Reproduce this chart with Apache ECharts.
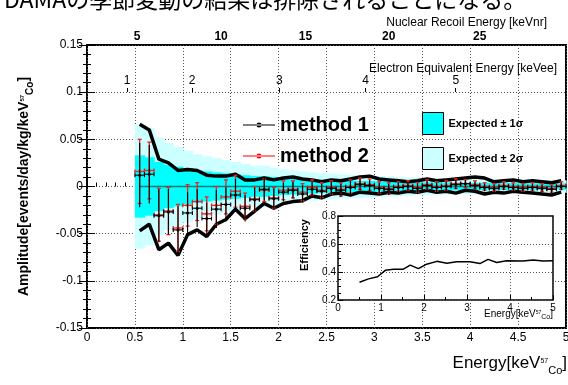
<!DOCTYPE html>
<html>
<head>
<meta charset="utf-8">
<script src="https://cdn.jsdelivr.net/npm/echarts@6/dist/echarts.min.js"></script>
<style>
html, body { margin: 0; padding: 0; background: #fff; }
#chart { width: 568px; height: 385px; }
</style>
</head>
<body>
<div id="chart"></div>
<script>
// bin centres [keV 57Co], 0.1 keV wide
var energy = [0.55, 0.65, 0.75, 0.85, 0.95, 1.05, 1.15, 1.25, 1.35, 1.45, 1.55, 1.65, 1.75, 1.85, 1.95,
  2.05, 2.15, 2.25, 2.35, 2.45, 2.55, 2.65, 2.75, 2.85, 2.95, 3.05, 3.15, 3.25, 3.35, 3.45,
  3.55, 3.65, 3.75, 3.85, 3.95, 4.05, 4.15, 4.25, 4.35, 4.45, 4.55, 4.65, 4.75, 4.85, 4.95];

// method 1 (black)
var method1 = [0.012, 0.013, -0.031, -0.027, -0.046, -0.028, -0.023, -0.034, -0.024, -0.019, -0.009, -0.023, -0.014, -0.003, -0.013,
  -0.006, -0.004, -0.008, -0.003, -0.005, -0.002, -0.004, -0.001, 0.002, 0.001, -0.002, -0.003, -0.001, 0.000, -0.002,
  0.001, -0.001, 0.000, 0.002, 0.003, 0.001, -0.001, -0.002, 0.000, -0.001, -0.002, -0.001, -0.002, -0.003, 0.000];
var error1 = [0.034, 0.031, 0.028, 0.024, 0.025, 0.022, 0.020, 0.017, 0.020, 0.018, 0.017, 0.014, 0.013, 0.012, 0.011,
  0.010, 0.009, 0.009, 0.008, 0.008, 0.007, 0.007, 0.007, 0.006, 0.006, 0.006, 0.006, 0.005, 0.005, 0.005,
  0.005, 0.005, 0.005, 0.005, 0.004, 0.004, 0.004, 0.004, 0.004, 0.004, 0.004, 0.004, 0.004, 0.004, 0.004];

// method 2 (red)
var method2 = [0.016, 0.017, -0.030, -0.026, -0.044, -0.020, -0.016, -0.029, -0.020, -0.011, -0.005, -0.021, -0.013, -0.004, -0.012,
  -0.004, -0.003, -0.006, -0.001, -0.004, -0.001, -0.003, 0.000, 0.003, 0.002, -0.001, -0.002, 0.000, 0.001, -0.001,
  0.002, 0.000, 0.001, 0.003, 0.003, 0.002, 0.000, -0.001, 0.001, 0.000, -0.001, 0.000, -0.001, -0.002, 0.001];
var error2 = [0.034, 0.030, 0.028, 0.025, 0.025, 0.022, 0.020, 0.018, 0.020, 0.018, 0.017, 0.014, 0.013, 0.012, 0.011,
  0.010, 0.009, 0.009, 0.008, 0.008, 0.007, 0.007, 0.007, 0.006, 0.006, 0.006, 0.006, 0.005, 0.005, 0.005,
  0.005, 0.005, 0.005, 0.005, 0.004, 0.004, 0.004, 0.004, 0.004, 0.004, 0.004, 0.004, 0.004, 0.004, 0.004];

// expected 1 sigma half width
var sigma = [0.033, 0.031, 0.026, 0.023, 0.021, 0.019, 0.017, 0.016, 0.015, 0.014, 0.013, 0.012, 0.011, 0.011, 0.010,
  0.009, 0.0085, 0.008, 0.0075, 0.007, 0.0068, 0.0065, 0.0062, 0.006, 0.0058, 0.0055, 0.0053, 0.005, 0.0048, 0.0047,
  0.0045, 0.0044, 0.0043, 0.0042, 0.004, 0.0039, 0.0038, 0.0037, 0.0036, 0.0036, 0.0035, 0.0035, 0.0034, 0.0034, 0.0033];

// thick black envelopes
var upperLine = [0.066, 0.060, 0.029, 0.025, 0.017, 0.018, 0.017, 0.012, 0.011, 0.011, 0.013, 0.007, 0.007, 0.009, 0.007,
  0.009, 0.010, 0.008, 0.007, 0.005, 0.007, 0.006, 0.008, 0.010, 0.011, 0.008, 0.007, 0.006, 0.005, 0.006,
  0.008, 0.006, 0.007, 0.008, 0.009, 0.010, 0.009, 0.005, 0.006, 0.007, 0.005, 0.006, 0.005, 0.004, 0.006];
var lowerLine = [-0.047, -0.040, -0.067, -0.060, -0.073, -0.051, -0.046, -0.053, -0.040, -0.035, -0.024, -0.034, -0.026, -0.018, -0.023,
  -0.018, -0.016, -0.015, -0.010, -0.012, -0.008, -0.007, -0.009, -0.006, -0.007, -0.008, -0.006, -0.007, -0.005, -0.006,
  -0.004, -0.006, -0.005, -0.007, -0.004, -0.005, -0.008, -0.006, -0.007, -0.005, -0.006, -0.007, -0.008, -0.009, -0.006];

// inset: efficiency
var effEnergy = [0.5, 0.71, 0.92, 1.1, 1.29, 1.52, 1.68, 1.87, 2.06, 2.3, 2.53, 2.76, 3.07, 3.3, 3.49, 3.69, 3.92, 4.3, 4.54, 4.77, 5.0];
var efficiency = [0.327, 0.351, 0.366, 0.412, 0.42, 0.42, 0.449, 0.424, 0.456, 0.476, 0.463, 0.473, 0.473, 0.46, 0.49, 0.468, 0.48, 0.478, 0.485, 0.478, 0.48];

// top axes: labels and where they sit on the keV(57Co) scale
var nrLabels = ['5', '10', '15', '20', '25'];
var nrPos = [0.523, 1.40, 2.28, 3.15, 4.10];
var eeLabels = ['1', '2', '3', '4', '5'];
var eePos = [0.418, 1.098, 2.008, 2.908, 3.849];

var FONT = '"Liberation Sans", Arial, Helvetica, sans-serif';
var HALF_BIN = 0.05;

function nearestLabel(pos, labels) {
  return function (v) {
    var best = 0;
    for (var i = 1; i < pos.length; i++) {
      if (Math.abs(pos[i] - v) < Math.abs(pos[best] - v)) best = i;
    }
    return labels[best];
  };
}

function bandItem(k, color) {
  return function (params, api) {
    var e = api.value(0), s = api.value(1) * k;
    var p1 = api.coord([e - HALF_BIN, s]);
    var p2 = api.coord([e + HALF_BIN, -s]);
    return {
      type: 'rect',
      shape: { x: p1[0], y: p1[1], width: p2[0] - p1[0] + 0.6, height: p2[1] - p1[1] },
      style: { fill: color }
    };
  };
}

function errorItem(color, lw, caps) {
  return function (params, api) {
    var x = api.value(0), y = api.value(1), err = api.value(2);
    var c = api.coord([x, y]);
    var top = api.coord([x, y + err]);
    var bot = api.coord([x, y - err]);
    var l = api.coord([x - HALF_BIN, y]);
    var r = api.coord([x + HALF_BIN, y]);
    var st = { stroke: color, lineWidth: lw };
    var kids = [
      { type: 'line', shape: { x1: c[0], y1: top[1], x2: c[0], y2: bot[1] }, style: st },
      { type: 'line', shape: { x1: l[0], y1: c[1], x2: r[0], y2: c[1] }, style: st },
      { type: 'line', shape: { x1: l[0], y1: c[1] - 2, x2: l[0], y2: c[1] + 2 }, style: st },
      { type: 'line', shape: { x1: r[0], y1: c[1] - 2, x2: r[0], y2: c[1] + 2 }, style: st },
      { type: 'circle', shape: { cx: c[0], cy: c[1], r: 1.5 }, style: { fill: color } }
    ];
    if (caps) {
      kids.push({ type: 'line', shape: { x1: c[0] - 2, y1: top[1], x2: c[0] + 2, y2: top[1] }, style: st });
      kids.push({ type: 'line', shape: { x1: c[0] - 2, y1: bot[1], x2: c[0] + 2, y2: bot[1] }, style: st });
    }
    return { type: 'group', children: kids };
  };
}

var methodIcon = 'path://M0,3.5L32,3.5L32,4.5L0,4.5Z M13.5,4A2.5,2.5 0 1 0 18.5,4A2.5,2.5 0 1 0 13.5,4Z';

var chart = echarts.init(document.getElementById('chart'));

var tickLine = { color: '#000', width: 1 };

chart.setOption({
  animation: false,
  textStyle: { fontFamily: FONT, color: '#000' },
  grid: [
    { left: 87, right: 2, top: 45, bottom: 57, show: true, borderColor: '#000', borderWidth: 2,
      backgroundColor: 'transparent', outerBoundsMode: 'none' },
    { left: 338, top: 216, width: 215, height: 84, show: true, borderColor: '#000', borderWidth: 1.5,
      backgroundColor: '#fff', z: 10, outerBoundsMode: 'none' }
  ],
  legend: [
    {
      left: 238, top: 110, orient: 'vertical', itemGap: 11, itemWidth: 32, itemHeight: 5,
      data: [{ name: 'method 1', icon: methodIcon }, { name: 'method 2', icon: methodIcon }],
      textStyle: { fontFamily: FONT, fontSize: 20, fontWeight: 'bold', color: '#000' },
      selectedMode: false
    },
    {
      left: 417, top: 107, orient: 'vertical', itemGap: 12, itemWidth: 21, itemHeight: 22,
      data: [
        { name: 'Expected ± 1σ', icon: 'rect', itemStyle: { color: '#00ffff', borderColor: '#000', borderWidth: 1 } },
        { name: 'Expected ± 2σ', icon: 'rect', itemStyle: { color: '#ccffff', borderColor: '#000', borderWidth: 1 } }
      ],
      textStyle: { fontFamily: FONT, fontSize: 11, fontWeight: 'bold', color: '#000' },
      selectedMode: false
    }
  ],
  xAxis: [
    {
      type: 'value', gridIndex: 0, min: 0, max: 5, interval: 0.5,
      axisLine: { show: false },
      axisTick: { inside: true, length: 8, lineStyle: tickLine },
      minorTick: { show: true, splitNumber: 5, length: 4, lineStyle: tickLine },
      axisLabel: { fontSize: 12, margin: 4, color: '#000', showMinLabel: true, showMaxLabel: true },
      splitLine: { show: true, lineStyle: { color: '#555', type: [1, 2], width: 1 } }
    },
    {
      type: 'value', gridIndex: 0, position: 'top', min: 0, max: 5,
      axisLine: { show: false },
      splitLine: { show: false },
      axisTick: { inside: true, length: 7, lineStyle: { color: '#000', width: 1.5 }, customValues: nrPos },
      axisLabel: { customValues: nrPos, formatter: nearestLabel(nrPos, nrLabels), fontSize: 12,
        fontWeight: 'bold', color: '#000', margin: 2 }
    },
    {
      type: 'value', gridIndex: 0, position: 'top', offset: -47, min: 0, max: 5,
      axisLine: { show: false },
      splitLine: { show: false },
      axisTick: { inside: false, length: 4, lineStyle: tickLine, customValues: eePos },
      axisLabel: { customValues: eePos, formatter: nearestLabel(eePos, eeLabels), fontSize: 12,
        color: '#000', margin: 5 }
    },
    {
      type: 'value', gridIndex: 1, min: 0, max: 5, interval: 1, z: 11,
      axisLine: { show: false },
      axisTick: { inside: true, length: 5, lineStyle: tickLine },
      minorTick: { show: true, splitNumber: 2, length: 3, lineStyle: tickLine },
      axisLabel: { fontSize: 10, margin: 3, color: '#000', showMinLabel: true, showMaxLabel: true },
      splitLine: { show: true, lineStyle: { color: '#555', type: [1, 2], width: 1 } }
    }
  ],
  yAxis: [
    {
      type: 'value', gridIndex: 0, min: -0.15, max: 0.15, interval: 0.05,
      axisLine: { show: false },
      axisTick: { inside: true, length: 8, lineStyle: tickLine },
      minorTick: { show: true, splitNumber: 5, length: 4, lineStyle: tickLine },
      axisLabel: { fontSize: 12, margin: 4, color: '#000', showMinLabel: true, showMaxLabel: true },
      splitLine: { show: true, lineStyle: { color: '#555', type: [1, 2], width: 1 } },
      name: '{a|Amplitude[events/day/kg/keV}{s|57}{c|Co}{a|]}',
      nameLocation: 'middle', nameGap: 52, nameRotate: 90,
      nameTextStyle: {
        rich: {
          a: { fontFamily: FONT, fontSize: 14, fontWeight: 'bold', color: '#000', verticalAlign: 'bottom', padding: [0, 0, 4, 0] },
          s: { fontFamily: FONT, fontSize: 6, fontWeight: 'bold', color: '#000', verticalAlign: 'bottom', padding: [0, 0, 10, 0] },
          c: { fontFamily: FONT, fontSize: 10, fontWeight: 'bold', color: '#000', verticalAlign: 'bottom' }
        }
      }
    },
    {
      type: 'value', gridIndex: 0, position: 'right', min: -0.15, max: 0.15, interval: 0.05,
      axisLine: { show: false },
      axisTick: { inside: true, length: 8, lineStyle: tickLine },
      minorTick: { show: true, splitNumber: 5, length: 4, lineStyle: tickLine },
      axisLabel: { show: false },
      splitLine: { show: false }
    },
    {
      type: 'value', gridIndex: 1, min: 0.2, max: 0.8, interval: 0.2, z: 11,
      axisLine: { show: false },
      axisTick: { inside: true, length: 5, lineStyle: tickLine },
      minorTick: { show: true, splitNumber: 4, length: 3, lineStyle: tickLine },
      axisLabel: { fontSize: 10, margin: 2, color: '#000', showMinLabel: true, showMaxLabel: true },
      splitLine: { show: true, lineStyle: { color: '#555', type: [1, 2], width: 1 } }
    }
  ],
  series: [
    {
      name: 'Expected ± 2σ', type: 'custom', xAxisIndex: 0, yAxisIndex: 0, z: 1, silent: true,
      itemStyle: { color: '#ccffff' },
      renderItem: bandItem(2, '#ccffff'),
      data: energy.map(function (e, i) { return [e, sigma[i]]; })
    },
    {
      name: 'Expected ± 1σ', type: 'custom', xAxisIndex: 0, yAxisIndex: 0, z: 1, silent: true,
      itemStyle: { color: '#00ffff' },
      renderItem: bandItem(1, '#00ffff'),
      data: energy.map(function (e, i) { return [e, sigma[i]]; })
    },
    {
      name: 'zero', type: 'line', xAxisIndex: 0, yAxisIndex: 0, z: 2, silent: true, symbol: 'none',
      lineStyle: { color: '#007a7a', width: 1.5 },
      data: energy.map(function (e) { return [e, 0]; })
    },
    {
      name: 'upper', type: 'line', xAxisIndex: 0, yAxisIndex: 0, z: 3, silent: true, symbol: 'none',
      lineStyle: { color: '#000', width: 3.5 },
      data: energy.map(function (e, i) { return [e, upperLine[i]]; })
    },
    {
      name: 'lower', type: 'line', xAxisIndex: 0, yAxisIndex: 0, z: 3, silent: true, symbol: 'none',
      lineStyle: { color: '#000', width: 3.5 },
      data: energy.map(function (e, i) { return [e, lowerLine[i]]; })
    },
    {
      name: 'method 2', type: 'custom', xAxisIndex: 0, yAxisIndex: 0, z: 4, silent: true,
      itemStyle: { color: '#ff0000' },
      renderItem: errorItem('#ee2222', 1.3, true),
      data: energy.map(function (e, i) { return [e, method2[i], error2[i]]; })
    },
    {
      name: 'method 1', type: 'custom', xAxisIndex: 0, yAxisIndex: 0, z: 5, silent: true,
      itemStyle: { color: '#000' },
      renderItem: errorItem('#000', 1.1, false),
      data: energy.map(function (e, i) { return [e, method1[i], error1[i]]; })
    },
    {
      name: 'efficiency', type: 'line', xAxisIndex: 3, yAxisIndex: 2, z: 12, silent: true, symbol: 'none',
      lineStyle: { color: '#000', width: 1.5 },
      data: effEnergy.map(function (e, i) { return [e, efficiency[i]]; })
    }
  ],
  graphic: [
    { type: 'text', left: 4, top: -12, z: 20,
      style: { text: 'DAMAの季節変動の結果は排除されることになる。', fontFamily: '"Noto Sans CJK JP", sans-serif',
        fontSize: 23, fill: '#000' } },
    { type: 'text', right: 21, top: 17, z: 20,
      style: { text: 'Nuclear Recoil Energy [keVnr]', fontFamily: FONT, fontSize: 12, fill: '#000' } },
    { type: 'text', right: 11, top: 63, z: 20,
      style: { text: 'Electron Equivalent Energy [keVee]', fontFamily: FONT, fontSize: 12, fill: '#000' } },
    { type: 'text', right: 1, top: 355, z: 20,
      style: {
        text: '{a|Energy[keV}{s|57}{c|Co}{a|]}',
        rich: {
          a: { fontFamily: FONT, fontSize: 17, fill: '#000', verticalAlign: 'bottom', padding: [0, 0, 4, 0] },
          s: { fontFamily: FONT, fontSize: 7, fill: '#000', verticalAlign: 'bottom', padding: [0, 0, 11, 0] },
          c: { fontFamily: FONT, fontSize: 11, fill: '#000', verticalAlign: 'bottom' }
        }
      } },
    { type: 'text', x: 305, y: 245, rotation: Math.PI / 2, z: 20,
      style: { text: 'Efficiency', fontFamily: FONT, fontSize: 11, fontWeight: 'bold', fill: '#000',
        align: 'center', verticalAlign: 'middle' } },
    { type: 'text', right: 15, top: 309, z: 20,
      style: {
        text: '{a|Energy[keV}{s|57}{c|Co}{a|]}',
        rich: {
          a: { fontFamily: FONT, fontSize: 10, fill: '#000', verticalAlign: 'bottom', padding: [0, 0, 2, 0] },
          s: { fontFamily: FONT, fontSize: 5, fill: '#000', verticalAlign: 'bottom', padding: [0, 0, 6, 0] },
          c: { fontFamily: FONT, fontSize: 7, fill: '#000', verticalAlign: 'bottom' }
        }
      } }
  ]
});
</script>
</body>
</html>
